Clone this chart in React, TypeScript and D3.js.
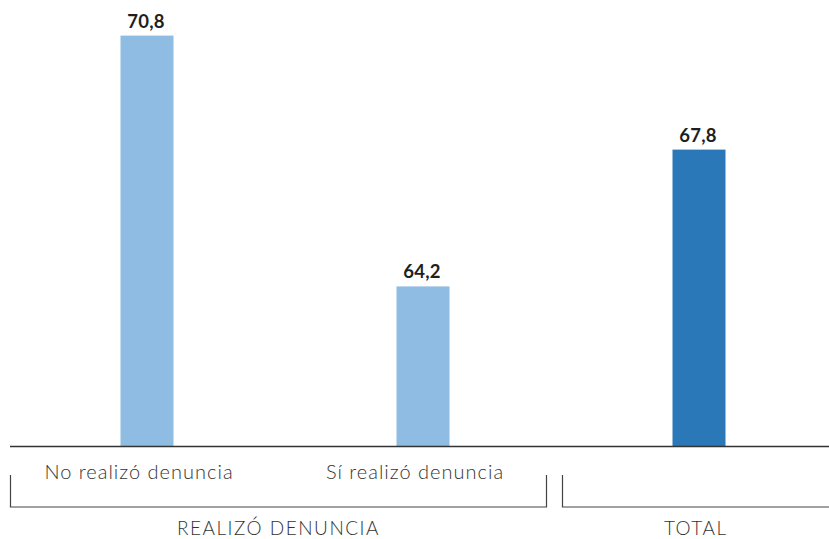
import React, { useEffect } from "react";
import * as d3 from "d3";

const categories = ["No realizó denuncia", "Sí realizó denuncia", "Total"];
const values = [70.8, 64.2, 67.8];
const categoryLabels = ["No realizó denuncia", "Sí realizó denuncia", ""];
const barColors = ["#8fbce2", "#8fbce2", "#2b78b8"];
const groups = [
  { label: "REALIZÓ DENUNCIA", from: 0, to: 1 },
  { label: "TOTAL", from: 2, to: 2 },
];
const yDomain = [60, 71];

const W = 829;
const H = 539;

export default function App() {
  useEffect(() => {
    document.body.style.margin = "0";
  }, []);

  const x = d3.scalePoint<string>().domain(categories).range([147, 699]);
  const y = d3.scaleLinear().domain(yDomain).range([446, 28]);
  const barW = 53;
  const fmt = (v: number) => d3.format(".1f")(v).replace(".", ",");

  const bracketTop = 475;
  const bracketBottom = 507;
  const groupEdges = [
    [10.5, 546.5],
    [562.5, 829],
  ];

  const font = "Lato, 'Open Sans', sans-serif";

  return (
    <svg width={W} height={H} style={{ display: "block", background: "#fff" }}>
      {categories.map((c, i) => (
        <rect
          key={c}
          x={(x(c) as number) - barW / 2}
          y={y(values[i])}
          width={barW}
          height={y(yDomain[0]) - y(values[i])}
          fill={barColors[i]}
        />
      ))}
      {categories.map((c, i) => (
        <text
          key={"v" + c}
          x={(x(c) as number) - 1}
          y={y(values[i]) - 8}
          textAnchor="middle"
          fontFamily={font}
          fontWeight={700}
          fontSize={18.5}
          letterSpacing={0.3}
          fill="#1f1f1f"
        >
          {fmt(values[i])}
        </text>
      ))}
      <line x1={10} x2={W} y1={446.5} y2={446.5} stroke="#333" strokeWidth={1.6} />
      {categories.map((c, i) =>
        categoryLabels[i] ? (
          <text
            key={"c" + c}
            x={(x(c) as number) - 8}
            y={479}
            textAnchor="middle"
            fontFamily={font}
            fontWeight={300}
            fontSize={20}
            letterSpacing={1}
            fill="#333"
          >
            {categoryLabels[i]}
          </text>
        ) : null
      )}
      {groups.map((g, gi) => {
        const [a, b] = groupEdges[gi];
        return (
          <g key={g.label}>
            <path
              d={
                gi === groups.length - 1
                  ? `M${a},${bracketTop}V${bracketBottom}H${b}`
                  : `M${a},${bracketTop}V${bracketBottom}H${b}V${bracketTop}`
              }
              fill="none"
              stroke="#444"
              strokeWidth={1.2}
            />
            <text
              x={(a + b) / 2}
              y={535}
              textAnchor="middle"
              fontFamily={font}
              fontWeight={300}
              fontSize={19}
              letterSpacing={1.5}
              fill="#333"
            >
              {g.label}
            </text>
          </g>
        );
      })}
    </svg>
  );
}
